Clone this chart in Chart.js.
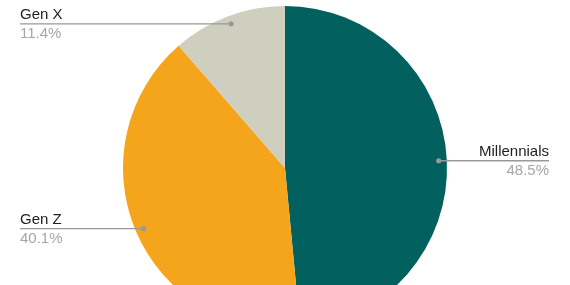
<!DOCTYPE html>
<html>
<head>
<meta charset="utf-8">
<script src="https://cdn.jsdelivr.net/npm/chart.js@4"></script>
<style>
  html, body { margin: 0; padding: 0; background: #fff; overflow: hidden; }
  #wrap { width: 570px; height: 285px; overflow: hidden; position: relative; }
  #wrap canvas { position: absolute; left: 0; top: 0; }
</style>
</head>
<body>
<div id="wrap"><canvas id="chart" width="570" height="336"></canvas></div>
<script>
const categories = ["Millennials", "Gen Z", "Gen X"];
const shares = [48.5, 40.1, 11.4];
const colors = ["#02605e", "#f5a51b", "#cfcfc0"];

// left-side labels start here, right-side labels end here
const leftX = 20;
const rightX = 549;

const calloutPlugin = {
    id: "callouts",
    afterDraw(chart) {
        const ctx = chart.ctx;
        const meta = chart.getDatasetMeta(0);
        meta.data.forEach((arc, i) => {
            const p = arc.getProps(["x", "y", "startAngle", "endAngle", "outerRadius"], true);
            const mid = (p.startAngle + p.endAngle) / 2;
            const r = p.outerRadius * 0.95;
            const dx = p.x + Math.cos(mid) * r;
            const dy = p.y + Math.sin(mid) * r;
            const right = Math.cos(mid) > 0;
            const endX = right ? rightX : leftX;

            ctx.save();
            ctx.strokeStyle = "#999999";
            ctx.lineWidth = 1.3;
            ctx.beginPath();
            ctx.moveTo(dx, dy);
            ctx.lineTo(endX, dy);
            ctx.stroke();

            ctx.fillStyle = "#999999";
            ctx.beginPath();
            ctx.arc(dx, dy, 2.6, 0, Math.PI * 2);
            ctx.fill();

            ctx.textAlign = right ? "right" : "left";
            ctx.textBaseline = "alphabetic";
            ctx.font = "15px 'Liberation Sans', Arial, sans-serif";
            ctx.fillStyle = "#222222";
            ctx.fillText(categories[i], endX, dy - 4.5);
            ctx.fillStyle = "#a6a6a6";
            ctx.fillText(shares[i].toFixed(1) + "%", endX, dy + 14.5);
            ctx.restore();
        });
    },
};

new Chart(document.getElementById("chart"), {
    type: "pie",
    data: {
        labels: categories,
        datasets: [
            {
                data: shares,
                backgroundColor: colors,
                borderWidth: 0,
            },
        ],
    },
    options: {
        responsive: false,
        animation: false,
        layout: { padding: { top: 6, bottom: 6, left: 0, right: 0 } },
        plugins: {
            legend: { display: false },
            tooltip: { enabled: false },
        },
    },
    plugins: [calloutPlugin],
});
</script>
</body>
</html>
